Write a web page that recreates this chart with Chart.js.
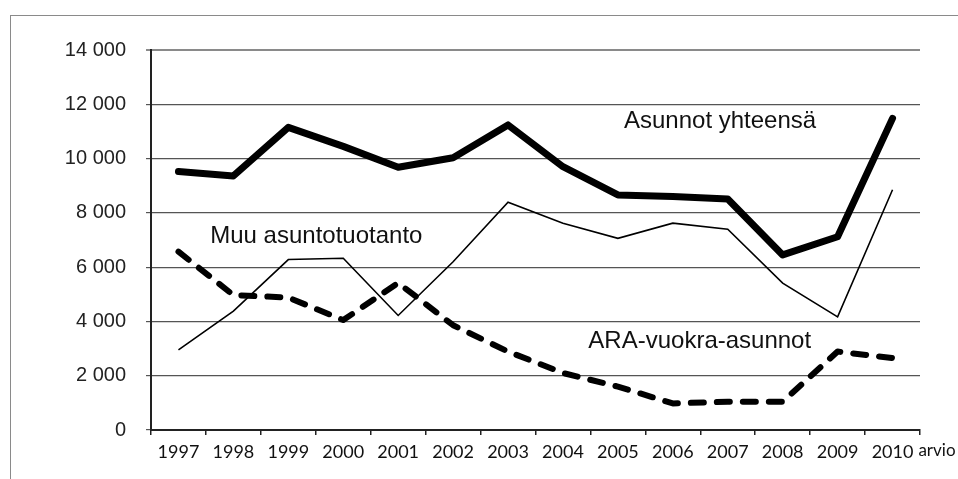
<!DOCTYPE html>
<html>
<head>
<meta charset="utf-8">
<script src="https://cdn.jsdelivr.net/npm/chart.js@4.4.0/dist/chart.umd.min.js"></script>
<style>
  body { margin: 0; background: #fff; }
  #kehys { position: absolute; left: 10px; top: 15px; width: 1000px; height: 500px;
           border-top: 1px solid #8a8a8a; border-left: 1px solid #8a8a8a; }
  #kuva { position: absolute; left: 0; top: 0; }
</style>
</head>
<body>
<div id="kehys"></div>
<canvas id="kuva" width="958" height="479"></canvas>
<script>
const vuodet = ['1997', '1998', '1999', '2000', '2001', '2002', '2003', '2004', '2005', '2006', '2007', '2008', '2009', '2010'];
const viimeinenLisa = 'arvio';

const yhteensa = [9520, 9360, 11150, 10450, 9680, 10030, 11240, 9700, 8660, 8600, 8510, 6450, 7120, 11480];
const muuTuotanto = [2950, 4380, 6280, 6330, 4220, 6200, 8390, 7620, 7060, 7620, 7400, 5410, 4170, 8850];
const araVuokra = [6570, 4970, 4880, 4050, 5420, 3860, 2890, 2100, 1600, 980, 1040, 1040, 2890, 2650];

const yTicks = [0, 2000, 4000, 6000, 8000, 10000, 12000, 14000];

// tekstit kuvaajan sisällä: x = luokan indeksi, y = arvo (peruslinja)
const tekstit = [
  { teksti: 'Asunnot yhteensä', x: 9.86, y: 11140 },
  { teksti: 'Muu asuntotuotanto', x: 2.51, y: 6880 },
  { teksti: 'ARA-vuokra-asunnot', x: 9.49, y: 3010 }
];

function muotoile(n) {
  return String(n).replace(/\B(?=(\d{3})+(?!\d))/g, ' ');
}

const tekstiPlugin = {
  id: 'tekstit',
  afterDatasetsDraw(chart) {
    const ctx = chart.ctx;
    const x = chart.scales.x;
    const y = chart.scales.y;
    ctx.save();
    ctx.fillStyle = '#111';
    ctx.font = '24px "Liberation Sans", Arial, sans-serif';
    ctx.textAlign = 'center';
    ctx.textBaseline = 'alphabetic';
    tekstit.forEach(t => {
      ctx.fillText(t.teksti, x.getPixelForValue(t.x), y.getPixelForValue(t.y));
    });

    // "arvio" viimeisen vuoden perään
    const viim = vuodet.length - 1;
    ctx.font = '18px Lato, sans-serif';
    const lev = ctx.measureText(vuodet[viim]).width;
    const px = x.getPixelForValue(viim) + lev / 2 + 5;
    ctx.font = '17px Lato, sans-serif';
    ctx.textAlign = 'left';
    ctx.textBaseline = 'alphabetic';
    ctx.fillText(viimeinenLisa, px, x.top + 26);
    ctx.restore();
  }
};

const ctx = document.getElementById('kuva').getContext('2d');

new Chart(ctx, {
  type: 'line',
  data: {
    labels: vuodet,
    datasets: [
      {
        label: 'Muu asuntotuotanto',
        data: muuTuotanto,
        borderColor: '#000',
        borderWidth: 1.6,
        pointRadius: 0,
        tension: 0,
        fill: false
      },
      {
        label: 'ARA-vuokra-asunnot',
        data: araVuokra,
        borderColor: '#000',
        borderWidth: 6,
        borderDash: [13, 13],
        borderCapStyle: 'round',
        borderJoinStyle: 'round',
        pointRadius: 0,
        tension: 0,
        fill: false
      },
      {
        label: 'Asunnot yhteensä',
        data: yhteensa,
        borderColor: '#000',
        borderWidth: 7,
        borderCapStyle: 'round',
        borderJoinStyle: 'round',
        pointRadius: 0,
        tension: 0,
        fill: false
      }
    ]
  },
  options: {
    responsive: false,
    animation: false,
    devicePixelRatio: 1,
    layout: { padding: { left: 0, right: 38, top: 50, bottom: 0 } },
    plugins: {
      legend: { display: false },
      tooltip: { enabled: false }
    },
    scales: {
      x: {
        offset: true,
        grid: {
          offset: true,
          drawOnChartArea: false,
          drawTicks: true,
          tickLength: 5,
          color: '#222',
          lineWidth: 1.5
        },
        border: { color: '#222', width: 2 },
        ticks: {
          color: '#111',
          padding: 6,
          maxRotation: 0,
          autoSkip: false,
          font: { family: 'Lato', size: 18 }
        },
        afterFit(scale) { scale.height = 49; }
      },
      y: {
        min: 0,
        max: 14000,
        afterBuildTicks(scale) { scale.ticks = yTicks.map(v => ({ value: v })); },
        grid: {
          color: ctx => ctx.tick && ctx.tick.value === 14000 ? '#8a8a8a' : '#555',
          lineWidth: ctx => ctx.tick && ctx.tick.value === 14000 ? 2 : 1.2,
          tickLength: 5
        },
        border: { color: '#222', width: 2 },
        ticks: {
          color: '#222',
          padding: 20,
          font: { family: '"Liberation Sans", Arial, sans-serif', size: 20 },
          callback: v => muotoile(v)
        },
        afterFit(scale) { scale.width = 151; }
      }
    }
  },
  plugins: [tekstiPlugin]
});
</script>
</body>
</html>
